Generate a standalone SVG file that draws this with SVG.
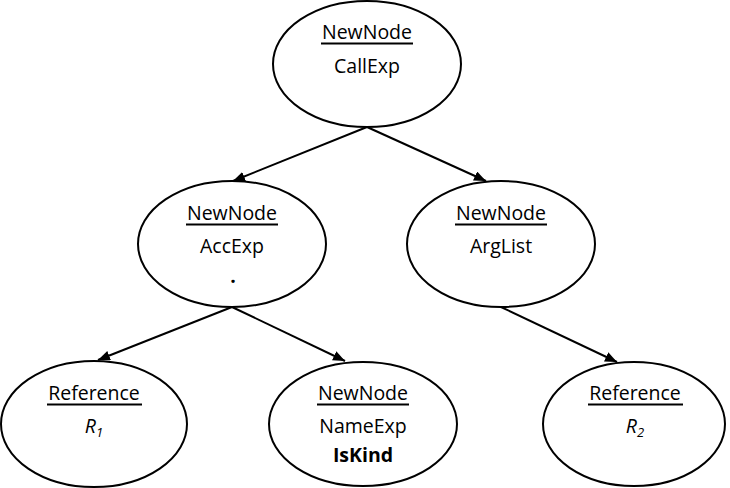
<svg xmlns="http://www.w3.org/2000/svg" width="730" height="488" viewBox="0 0 730 488">
<style>
  .node ellipse { fill: #ffffff; stroke: #000000; stroke-width: 2; }
  .t { font-family: "Open Sans", "Liberation Sans", sans-serif; font-size: 19.5px; fill: #000000; text-anchor: middle; }
  .ul { stroke: #000000; stroke-width: 2; }
  .b { font-weight: bold; }
  .i { font-style: italic; }
  .sub { font-size: 13px; }
  .edge { stroke: #000000; stroke-width: 2; fill: none; marker-end: url(#arrow); }
</style>
<defs>
  <marker id="arrow" markerUnits="userSpaceOnUse" markerWidth="13" markerHeight="11" refX="12" refY="5" orient="auto">
    <path d="M0,0 L12,5 L0,10 z" fill="#000000"/>
  </marker>
</defs>
<rect width="730" height="488" fill="#ffffff"/>
<g id="connectors">
  <line class="edge" x1="367" y1="127" x2="233" y2="181"/>
  <line class="edge" x1="367" y1="127" x2="486" y2="181"/>
  <line class="edge" x1="232" y1="307" x2="98" y2="360"/>
  <line class="edge" x1="232" y1="307" x2="345" y2="361"/>
  <line class="edge" x1="501" y1="307" x2="617" y2="362"/>
</g>
<g id="callexp" class="node">
  <ellipse cx="367" cy="64" rx="94" ry="63"/>
  <text class="t" x="367" y="39">NewNode</text>
  <line class="ul" x1="321" y1="43.5" x2="413" y2="43.5"/>
  <text class="t" x="367" y="73">CallExp</text>
</g>
<g id="accexp" class="node">
  <ellipse cx="232" cy="244" rx="94" ry="63"/>
  <text class="t" x="232" y="220">NewNode</text>
  <line class="ul" x1="186" y1="224.5" x2="278" y2="224.5"/>
  <text class="t" x="232" y="253">AccExp</text>
  <text class="t b" x="233" y="283">.</text>
</g>
<g id="arglist" class="node">
  <ellipse cx="501" cy="244" rx="94" ry="63"/>
  <text class="t" x="501" y="220">NewNode</text>
  <line class="ul" x1="455" y1="224.5" x2="547" y2="224.5"/>
  <text class="t" x="501" y="253">ArgList</text>
</g>
<g id="ref1" class="node">
  <ellipse cx="94" cy="424" rx="93" ry="63"/>
  <text class="t" x="94" y="400">Reference</text>
  <line class="ul" x1="47" y1="404.5" x2="142" y2="404.5"/>
  <text class="t i" x="94" y="433">R<tspan class="sub" dy="4">1</tspan></text>
</g>
<g id="nameexp" class="node">
  <ellipse cx="363" cy="424" rx="94" ry="62"/>
  <text class="t" x="363" y="400">NewNode</text>
  <line class="ul" x1="317" y1="404.5" x2="409" y2="404.5"/>
  <text class="t" x="363" y="433">NameExp</text>
  <text class="t b" x="363" y="462">IsKind</text>
</g>
<g id="ref2" class="node">
  <ellipse cx="634" cy="424" rx="91" ry="62"/>
  <text class="t" x="635" y="400">Reference</text>
  <line class="ul" x1="588" y1="404.5" x2="683" y2="404.5"/>
  <text class="t i" x="635" y="433">R<tspan class="sub" dy="4">2</tspan></text>
</g>
</svg>
